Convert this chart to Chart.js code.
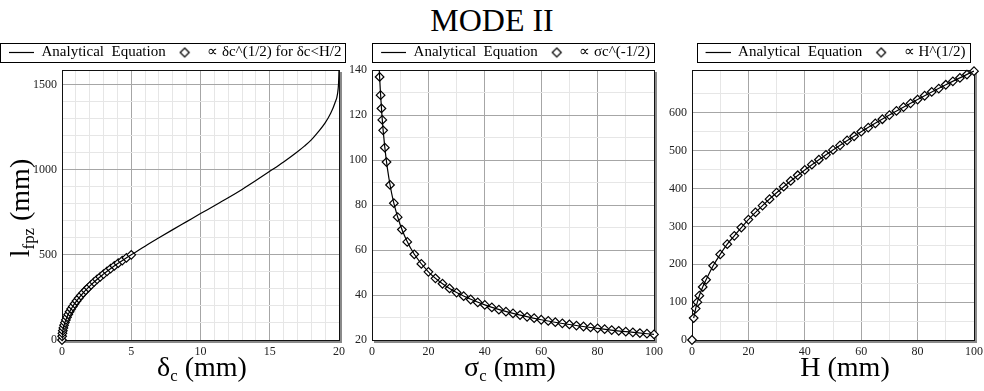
<!DOCTYPE html>
<html>
<head>
<meta charset="utf-8">
<script src="https://cdn.jsdelivr.net/npm/chart.js@4"></script>
<style>
html, body { margin: 0; padding: 0; background: #fff; }
#wrap { position: relative; width: 984px; height: 391px; overflow: hidden; font-family: 'Liberation Serif', serif; color: #000; }
canvas { position: absolute; top: 41px; }
.t { position: absolute; white-space: nowrap; font-size: 28px; line-height: 28px; text-align: center; }
sub { font-size: 60%; vertical-align: -0.3em; line-height: 0; }
</style>
</head>
<body>
<div id="wrap">
  <div class="t" style="left:0; width:984px; top:4px; font-size:32px; line-height:32px">MODE II</div>
  <canvas id="c1" width="355" height="319" style="left:0px"></canvas>
  <canvas id="c2" width="336" height="319" style="left:345px"></canvas>
  <canvas id="c3" width="336" height="319" style="left:665px"></canvas>
  <div class="t" style="left:-50px; top:193px; width:140px; height:30px; line-height:30px; transform:rotate(-90deg)">l<sub>fpz</sub> (mm)</div>
  <div class="t" style="left:102px; top:353px; width:200px">&delta;<sub>c</sub> (mm)</div>
  <div class="t" style="left:410px; top:353px; width:200px">&sigma;<sub>c</sub> (mm)</div>
  <div class="t" style="left:745px; top:353px; width:200px">H (mm)</div>
</div>
<script>
// panel 1 : l_fpz vs delta_c
const d1LineX = [0, 0.02, 0.05, 0.1, 0.2, 0.35, 0.5, 0.75, 1, 1.5, 2, 2.5, 3, 3.5, 4, 4.5, 5, 6, 7, 8, 9, 10, 11, 12, 13, 14, 15, 16, 17, 17.5, 18, 18.5, 19, 19.4, 19.7, 19.9, 19.97, 20];
const d1LineY = [0, 32, 50, 71, 100, 132, 158, 194, 224, 274, 316, 354, 387, 418, 447, 474, 500, 551, 600, 648, 695, 742, 788, 835, 884, 936, 990, 1045, 1105, 1138, 1175, 1222, 1275, 1331, 1390, 1448, 1510, 1585];
const d1MarkX = [0, 0.01, 0.03, 0.06, 0.1, 0.15, 0.21, 0.28, 0.36, 0.45, 0.55, 0.66, 0.78, 0.91, 1.05, 1.2, 1.36, 1.53, 1.71, 1.9, 2.1, 2.31, 2.53, 2.76, 3, 3.25, 3.51, 3.78, 4.06, 4.35, 4.65, 5];
const d1MarkY = [0, 22, 39, 55, 71, 87, 102, 118, 134, 150, 166, 182, 197, 213, 229, 245, 261, 277, 292, 308, 324, 340, 356, 371, 387, 403, 419, 435, 451, 466, 482, 500];

// panel 2 : l_fpz vs sigma_c
const d2LineX = [2.58, 2.7, 3, 3.5, 4, 5, 6, 7, 8, 10, 12, 15, 20, 25, 30, 40, 50, 60, 70, 80, 90, 100];
const d2LineY = [140, 136.9, 129.9, 120.3, 112.5, 100.6, 91.9, 85.0, 79.5, 71.2, 65.0, 58.1, 50.3, 45.0, 41.1, 35.6, 31.8, 29.0, 26.9, 25.2, 23.7, 22.5];
const d2MarkX = [2.7, 3.05, 3.35, 3.65, 3.95, 4.55, 5.15, 6.4, 7.75, 9.1, 10.6, 12.5, 15, 17.5, 20, 22.5, 25, 27.5, 30, 32.5, 35, 37.5, 40, 42.5, 45, 47.5, 50, 52.5, 55, 57.5, 60, 62.5, 65, 67.5, 70, 72.5, 75, 77.5, 80, 82.5, 85, 87.5, 90, 92.5, 95, 97.5, 100];
const d2MarkY = [136.9, 128.8, 122.9, 117.8, 113.2, 105.5, 99.1, 88.9, 80.8, 74.6, 69.1, 63.6, 58.1, 53.8, 50.3, 47.4, 45.0, 42.9, 41.1, 39.5, 38.0, 36.7, 35.6, 34.5, 33.5, 32.6, 31.8, 31.1, 30.3, 29.7, 29.0, 28.5, 27.9, 27.4, 26.9, 26.4, 26.0, 25.6, 25.2, 24.8, 24.4, 24.1, 23.7, 23.4, 23.1, 22.8, 22.5];

// panel 3 : l_fpz vs H
const d3LineX = [0.6, 1.3, 1.9, 2.6, 3.8, 5, 7.5, 10, 12.5, 15, 20, 25, 30, 40, 50, 60, 70, 80, 90, 100];
const d3LineY = [58, 83, 100, 117, 140, 159, 196, 226, 253, 275, 318, 355, 389, 449, 502, 550, 594, 635, 674, 710];
const d3MarkX = [0, 0.6, 1.3, 1.9, 2.6, 3.8, 5, 7.5, 10, 12.5, 15, 17.5, 20, 22.5, 25, 27.5, 30, 32.5, 35, 37.5, 40, 42.5, 45, 47.5, 50, 52.5, 55, 57.5, 60, 62.5, 65, 67.5, 70, 72.5, 75, 77.5, 80, 82.5, 85, 87.5, 90, 92.5, 95, 97.5, 100];
const d3MarkY = [0, 58, 83, 100, 117, 140, 159, 196, 226, 253, 275, 297, 318, 337, 355, 372, 389, 405, 420, 435, 449, 463, 476, 489, 502, 514, 527, 538, 550, 561, 572, 583, 594, 605, 615, 625, 635, 645, 655, 664, 674, 683, 692, 701, 710];

const legendText1 = 'Analytical  Equation';
const legendText2 = ['\u221D \u03B4c^(1/2) for \u03B4c<H/2', '\u221D \u03C3c^(-1/2)', '\u221D H^(1/2)'];

const serif = "'Liberation Serif', 'Times New Roman', serif";

function pts(xs, ys) {
  return xs.map((x, i) => ({ x: x, y: ys[i] }));
}

// small pictures for the legend samples
const lineSample = document.createElement('canvas');
lineSample.width = 30; lineSample.height = 3;
let g = lineSample.getContext('2d');
g.strokeStyle = '#000'; g.lineWidth = 1.2;
g.beginPath(); g.moveTo(5, 1.5); g.lineTo(30, 1.5); g.stroke();

const diamondSample = document.createElement('canvas');
diamondSample.width = 12; diamondSample.height = 12;
g = diamondSample.getContext('2d');
g.strokeStyle = '#000'; g.fillStyle = '#fff'; g.lineWidth = 1.2;
g.beginPath(); g.moveTo(6, 1.5); g.lineTo(10.5, 6); g.lineTo(6, 10.5); g.lineTo(1.5, 6); g.closePath();
g.fill(); g.stroke();

const framePlugin = {
  id: 'frame',
  beforeDatasetsDraw(chart) {
    const a = chart.chartArea, ctx = chart.ctx;
    ctx.save();
    ctx.strokeStyle = '#111'; ctx.lineWidth = 1;
    ctx.strokeRect(Math.round(a.left) + 0.5, Math.round(a.top) + 0.5, Math.round(a.right - a.left), Math.round(a.bottom - a.top));
    ctx.strokeStyle = '#8a8a8a'; ctx.lineWidth = 2;
    ctx.beginPath();
    ctx.moveTo(Math.round(a.right) + 2, Math.round(a.top) + 2);
    ctx.lineTo(Math.round(a.right) + 2, Math.round(a.bottom) + 2);
    ctx.lineTo(Math.round(a.left) + 2, Math.round(a.bottom) + 2);
    ctx.stroke();
    ctx.restore();
  },
  afterDraw(chart) {
    // box round the legend
    const hb = chart.legend.legendHitBoxes, ctx = chart.ctx;
    const l = Math.min(...hb.map(b => b.left)) - 4;
    const r = Math.max(...hb.map(b => b.left + b.width)) + 4;
    const t = hb[0].top - 2;
    ctx.save();
    ctx.strokeStyle = '#000'; ctx.lineWidth = 1;
    ctx.strokeRect(Math.round(l) + 0.5, Math.round(t) + 0.5, Math.round(r - l), hb[0].height + 4);
    ctx.restore();
  }
};

function makePanel(id, lineData, markData, label2, xs, ys, leftW, rightW, align) {
  const isMajor = (v, m) => Math.abs(v % m) < 1e-9;
  const gridCol = (major) => (c) => (c.tick && isMajor(c.tick.value, major)) ? '#a6a6a6' : '#e6e6e6';
  return new Chart(document.getElementById(id), {
    type: 'scatter',
    data: {
      datasets: [{
        data: lineData,
        showLine: true,
        borderColor: '#000',
        borderWidth: 1.2,
        pointRadius: 0,
        cubicInterpolationMode: 'monotone'
      }, {
        data: markData,
        showLine: false,
        pointStyle: 'rectRot',
        pointRadius: 4.3,
        pointBorderWidth: 1.2,
        pointBorderColor: '#000',
        pointBackgroundColor: '#fff',
        clip: false
      }]
    },
    options: {
      responsive: false,
      animation: false,
      events: [],
      layout: { padding: 0 },
      plugins: {
        tooltip: { enabled: false },
        legend: {
          position: 'top',
          align: align,
          labels: {
            usePointStyle: true,
            pointStyleWidth: 30,
            padding: 4,
            color: '#000',
            font: { family: serif, size: 15 },
            generateLabels: () => [
              { text: legendText1, pointStyle: lineSample, fillStyle: '#000', strokeStyle: '#000', lineWidth: 0, hidden: false, datasetIndex: 0, fontColor: '#000' },
              { text: label2, pointStyle: diamondSample, fillStyle: '#fff', strokeStyle: '#000', lineWidth: 0, hidden: false, datasetIndex: 1, fontColor: '#000' }
            ]
          }
        }
      },
      scales: {
        x: {
          type: 'linear',
          min: xs.min, max: xs.max,
          afterFit: (s) => { s.height = 20; },
          border: { display: false },
          grid: { color: gridCol(xs.major), drawTicks: false, lineWidth: 1 },
          ticks: {
            stepSize: xs.minor,
            autoSkip: false,
            maxRotation: 0,
            padding: 5,
            color: '#222',
            font: { family: serif, size: 12 },
            callback: (v) => (isMajor(v, xs.major) ? v : '')
          }
        },
        y: {
          type: 'linear',
          min: ys.min, max: ys.max,
          afterFit: (s) => { s.width = leftW; },
          border: { display: false },
          grid: { color: gridCol(ys.major), drawTicks: false, lineWidth: 1 },
          ticks: {
            stepSize: ys.minor,
            autoSkip: false,
            padding: 5,
            color: '#222',
            font: { family: serif, size: 12 },
            callback: (v) => (isMajor(v, ys.major) ? v : '')
          }
        },
        yr: {
          position: 'right',
          afterFit: (s) => { s.width = rightW; },
          border: { display: false },
          grid: { display: false },
          ticks: { display: false }
        }
      }
    },
    plugins: [framePlugin]
  });
}

function drawAll() {
  makePanel('c1', pts(d1LineX, d1LineY), pts(d1MarkX, d1MarkY), legendText2[0],
    { min: 0, max: 20, minor: 1, major: 5 }, { min: 0, max: 1585, minor: 100, major: 500 }, 62, 16, 'start');
  makePanel('c2', pts(d2LineX, d2LineY), pts(d2MarkX, d2MarkY), legendText2[1],
    { min: 0, max: 100, minor: 10, major: 20 }, { min: 20, max: 140, minor: 10, major: 20 }, 27, 27, 'center');
  makePanel('c3', pts(d3LineX, d3LineY), pts(d3MarkX, d3MarkY), legendText2[2],
    { min: 0, max: 100, minor: 10, major: 20 }, { min: 0, max: 713, minor: 50, major: 100 }, 27, 27, 'center');
}

if (document.fonts && document.fonts.load) {
  document.fonts.load("15px 'Liberation Serif'").then(drawAll, drawAll);
} else {
  drawAll();
}
</script>
</body>
</html>
